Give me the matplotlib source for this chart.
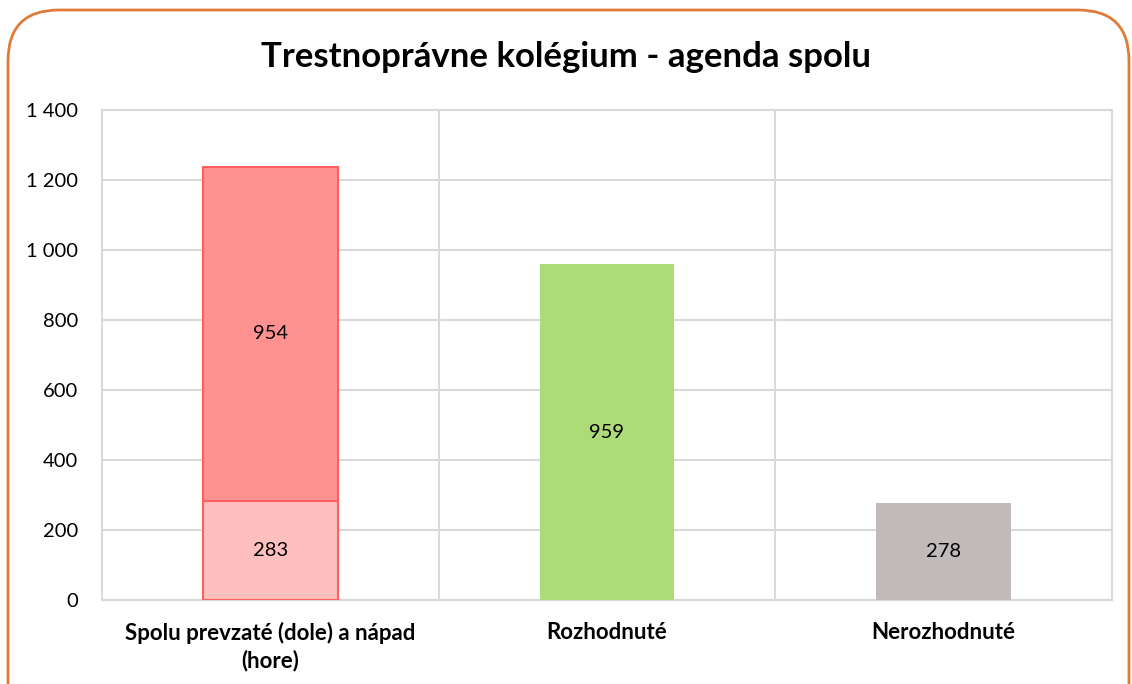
import matplotlib
matplotlib.use("Agg")
import matplotlib.pyplot as plt
from matplotlib.patches import FancyBboxPatch
from matplotlib.ticker import FuncFormatter

# Data
categories = ["Spolu prevzaté (dole) a nápad\n(hore)", "Rozhodnuté", "Nerozhodnuté"]
prevzate = 283
napad = 954
rozhodnute = 959
nerozhodnute = 278
yticks = [0, 200, 400, 600, 800, 1000, 1200, 1400]

plt.rcParams['font.family'] = ['Lato', 'DejaVu Sans']

fig = plt.figure(figsize=(11.32, 6.84), dpi=100)
ax = fig.add_axes([102 / 1132, 1 - 600 / 684, 1010 / 1132, 490 / 684])

# rounded orange frame
frame = FancyBboxPatch((8 / 1132, -0.1), 1121 / 1132, (684 - 10) / 684 + 0.1,
                       boxstyle="round,pad=0,rounding_size=0.045",
                       transform=fig.transFigure, fill=False,
                       edgecolor="#E07B39", linewidth=2, mutation_aspect=1132 / 684,
                       clip_on=False)
fig.patches.append(frame)

w = 0.4
ax.bar(0, prevzate, width=w, color="#FFBFBF", edgecolor="#FF5F5F", linewidth=1.5, zorder=3)
ax.bar(0, napad, width=w, bottom=prevzate, color="#FF9191", edgecolor="#FF5F5F", linewidth=1.5, zorder=3)
ax.bar(1, rozhodnute, width=w, color="#ADDB78", zorder=3)
ax.bar(2, nerozhodnute, width=w, color="#C0BABA", zorder=3)

lab = dict(ha="center", va="center", fontsize=14.5, color="black", zorder=4)
ax.text(0, prevzate / 2, str(prevzate), **lab)
ax.text(0, prevzate + napad / 2, str(napad), **lab)
ax.text(1, rozhodnute / 2, str(rozhodnute), **lab)
ax.text(2, nerozhodnute / 2, str(nerozhodnute), **lab)

ax.set_xlim(-0.5, 2.5)
ax.set_ylim(0, 1400)
ax.set_yticks(yticks)
ax.yaxis.set_major_formatter(FuncFormatter(lambda v, p: f"{int(v):,}".replace(",", " ")))
ax.set_xticks([0, 1, 2])
ax.set_xticklabels(categories, fontsize=16, fontweight="bold", linespacing=1.3)
ax.set_xticks([0.5, 1.5], minor=True)
ax.tick_params(axis="y", labelsize=14.5, length=0, pad=17)
ax.tick_params(axis="x", which="both", length=0, pad=16)

ax.grid(axis="y", color="#D9D9D9", linewidth=1.5, zorder=0)
ax.grid(axis="x", which="minor", color="#D9D9D9", linewidth=1.5, zorder=0)
for s in ax.spines.values():
    s.set_color("#D9D9D9")
    s.set_linewidth(1.5)

fig.text(0.5, 1 - 57 / 684, "Trestnoprávne kolégium - agenda spolu",
         ha="center", va="center", fontsize=25, fontweight="bold")

fig.savefig("out.png", dpi=100)
